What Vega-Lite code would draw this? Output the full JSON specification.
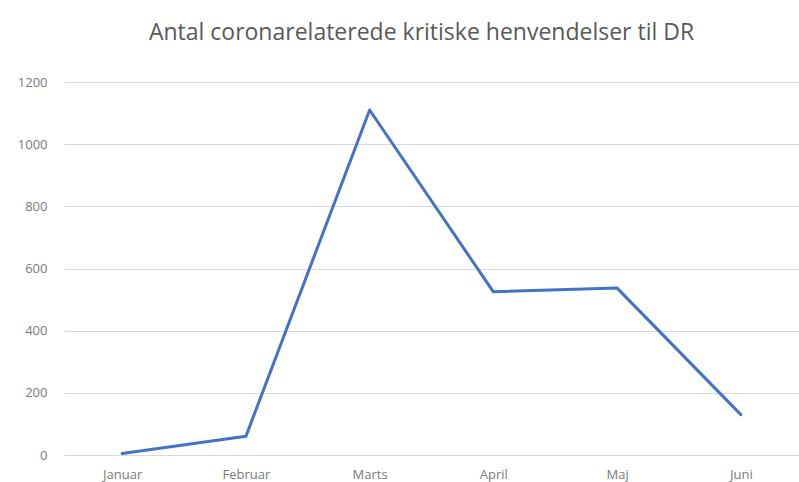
{
  "$schema": "https://vega.github.io/schema/vega-lite/v6.json",
  "width": 735,
  "height": 373,
  "autosize": {"type": "none"},
  "padding": {"left": 64, "top": 82, "right": 0, "bottom": 27},
  "background": "white",
  "title": {
    "text": "Antal coronarelaterede kritiske henvendelser til DR",
    "font": "Open Sans",
    "fontSize": 23,
    "fontWeight": "normal",
    "color": "#595959",
    "anchor": "middle",
    "dx": -10,
    "offset": 31
  },
  "data": {
    "values": [
      {"month": "Januar", "value": 5},
      {"month": "Februar", "value": 60},
      {"month": "Marts", "value": 1110},
      {"month": "April", "value": 525},
      {"month": "Maj", "value": 537},
      {"month": "Juni", "value": 130}
    ]
  },
  "mark": {"type": "line", "color": "#4472C4", "strokeWidth": 3, "strokeJoin": "round", "strokeCap": "round"},
  "encoding": {
    "x": {
      "field": "month",
      "type": "ordinal",
      "sort": null,
      "scale": {"type": "point", "padding": 0.47},
      "axis": {
        "title": null,
        "labelAngle": 0,
        "domain": false,
        "ticks": false,
        "grid": false,
        "labelPadding": 13,
        "labelFont": "Open Sans",
        "labelFontSize": 13,
        "labelColor": "#7a7a7a"
      }
    },
    "y": {
      "field": "value",
      "type": "quantitative",
      "scale": {"domain": [0, 1200]},
      "axis": {
        "title": null,
        "values": [0, 200, 400, 600, 800, 1000, 1200],
        "format": "d",
        "domain": false,
        "ticks": false,
        "gridColor": "#d9d9d9",
        "gridWidth": 1,
        "labelPadding": 17,
        "labelFont": "Open Sans",
        "labelFontSize": 13,
        "labelColor": "#7a7a7a"
      }
    }
  },
  "config": {"view": {"stroke": null}}
}
